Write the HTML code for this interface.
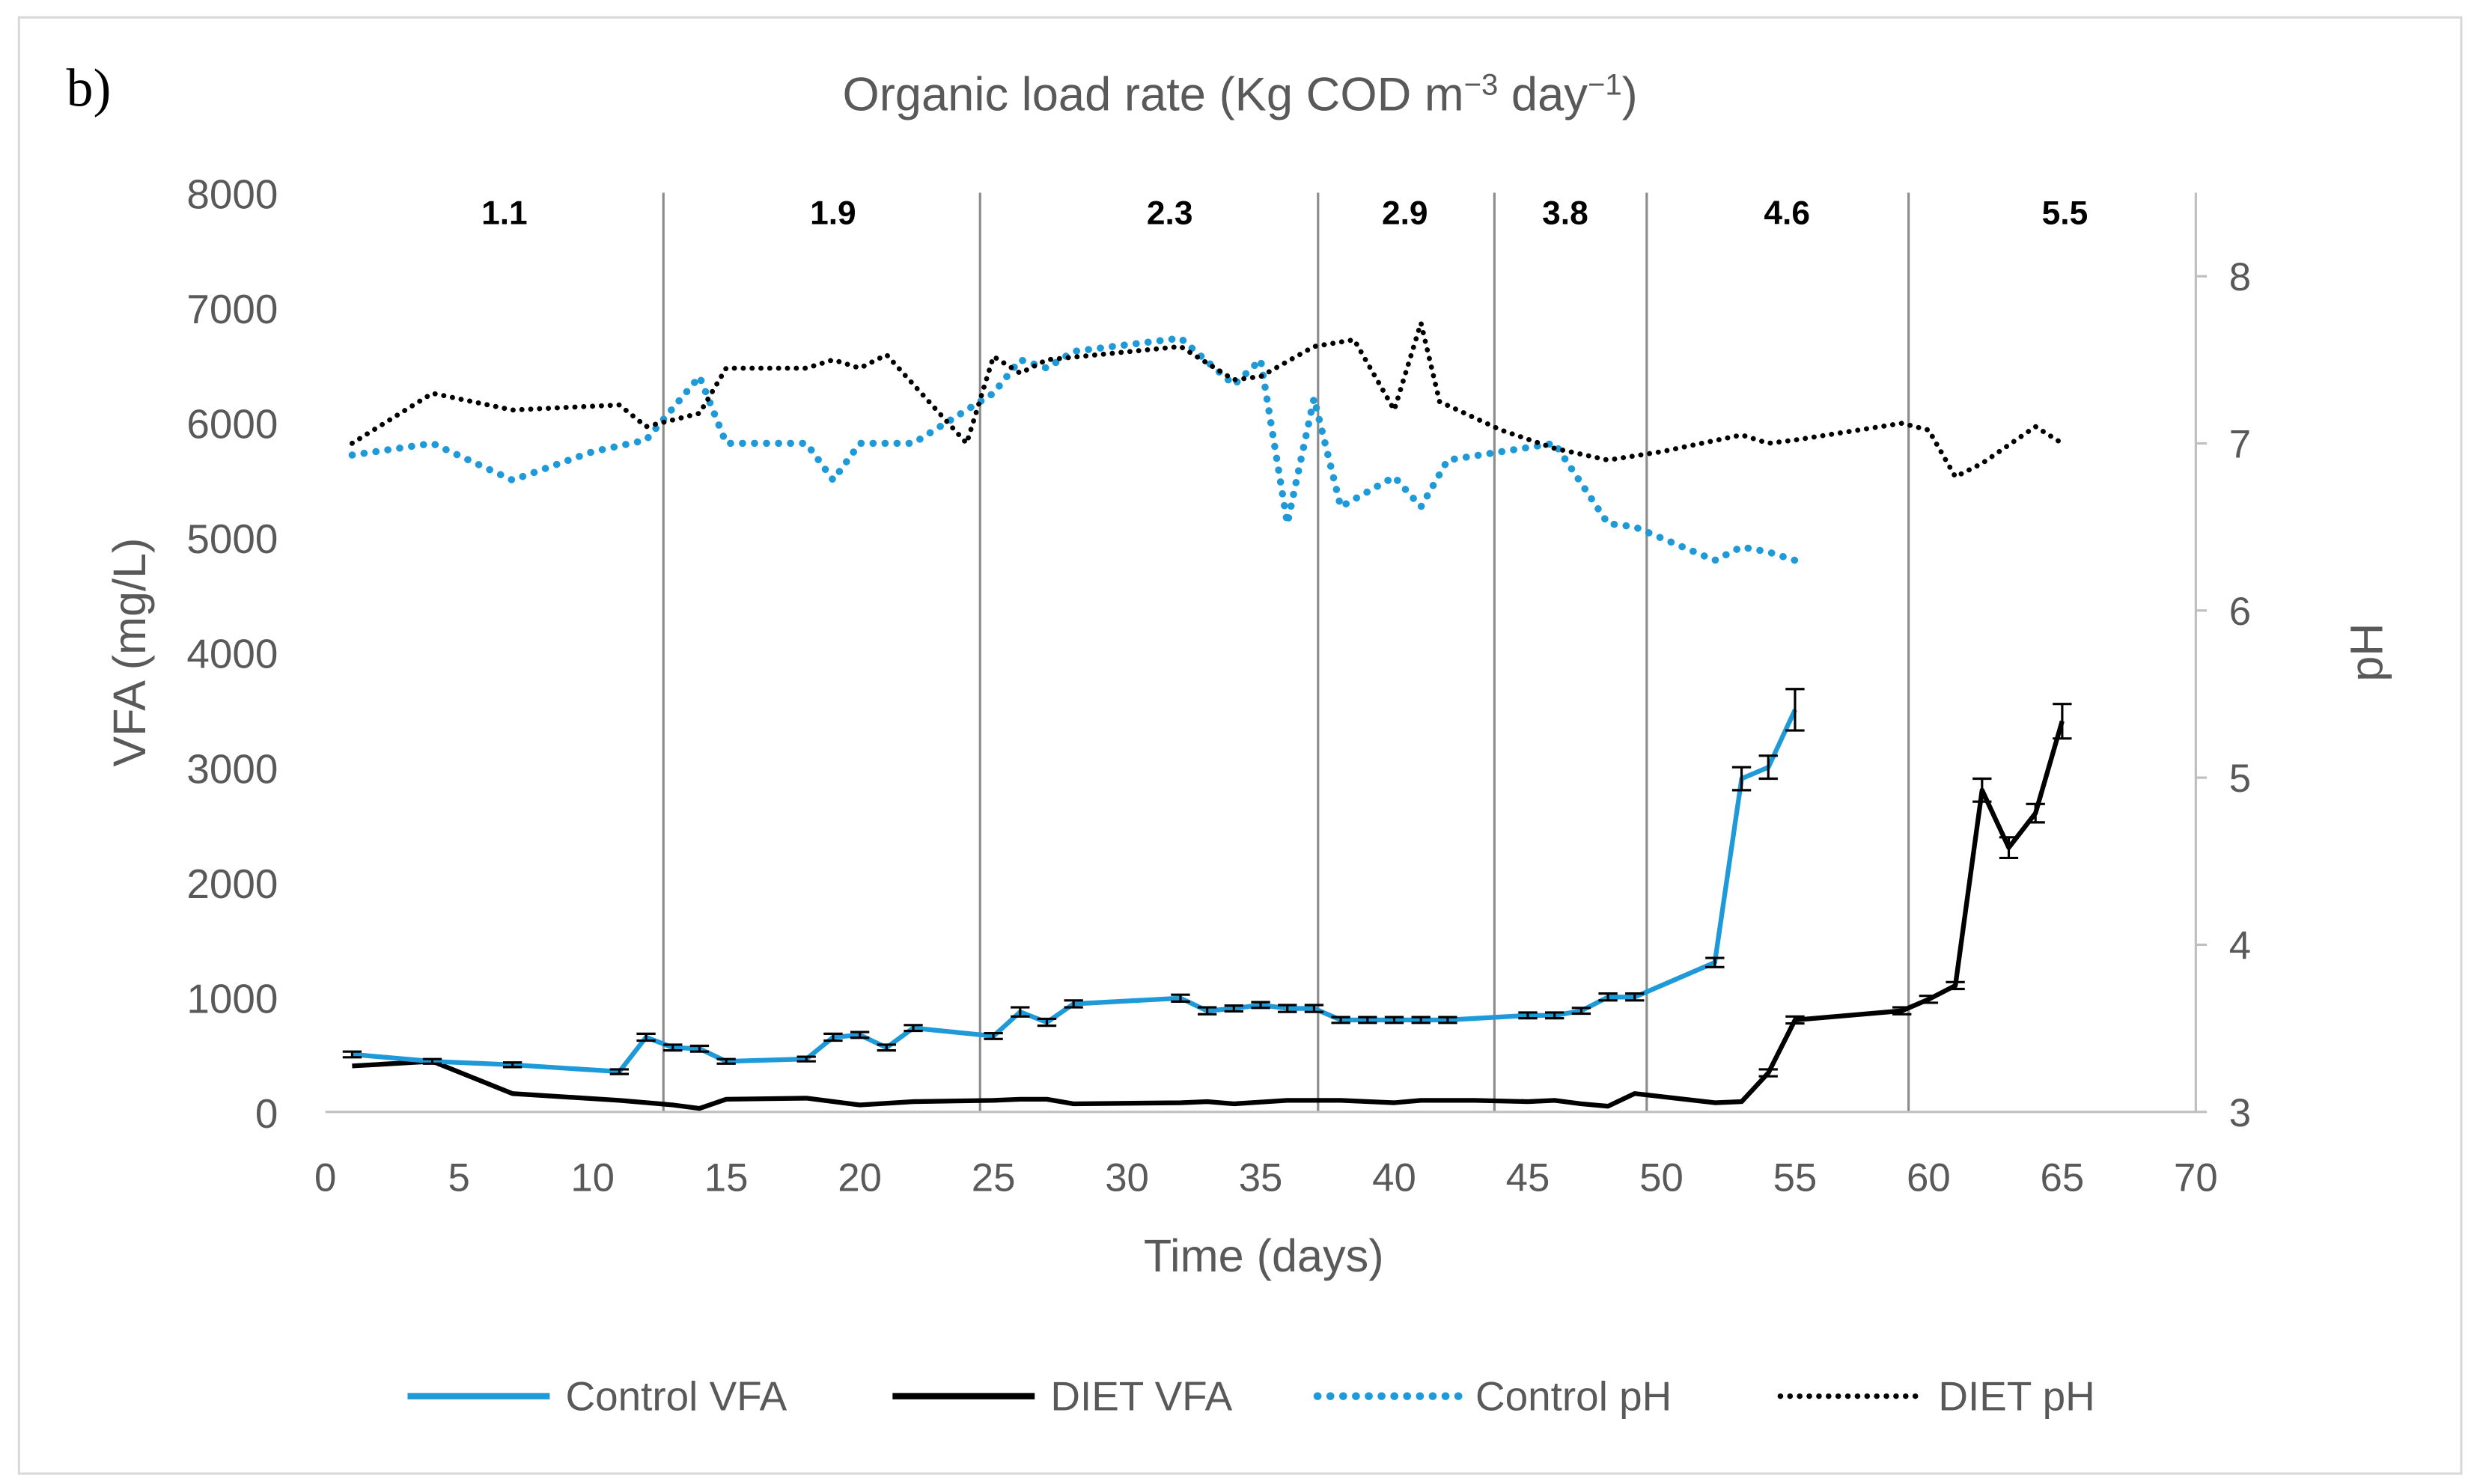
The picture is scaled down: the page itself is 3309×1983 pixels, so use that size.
<!DOCTYPE html>
<html><head><meta charset="utf-8"><style>
html,body{margin:0;padding:0;background:#fff}
svg{display:block}
text{font-family:"Liberation Sans",sans-serif}
</style></head><body>
<svg id="chart" width="3309" height="1983" viewBox="0 0 1568 939.6" preserveAspectRatio="none" xmlns="http://www.w3.org/2000/svg">
<rect x="12" y="11" width="1546" height="922" fill="#fff" stroke="#d9d9d9" stroke-width="1.5"/>
<text x="42" y="67" font-family="Liberation Serif" font-size="34" fill="#000" style="font-family:'Liberation Serif',serif">b)</text>
<text x="785" y="70" font-size="30" fill="#595959" text-anchor="middle">Organic load rate (Kg COD m<tspan dy="-10" font-size="19">−3</tspan><tspan dy="10"> day</tspan><tspan dy="-10" font-size="19">−1</tspan><tspan dy="10">)</tspan></text>
<g id="grid"></g>
<g id="axes"></g>
<g id="series"></g>
<text x="800" y="805" font-size="29" fill="#595959" text-anchor="middle">Time (days)</text>
<text transform="translate(92,413) rotate(-90)" font-size="29" fill="#595959" text-anchor="middle">VFA (mg/L)</text>
<text transform="translate(1508,413) rotate(-90)" font-size="29" fill="#595959" text-anchor="middle">pH</text>
<g>
<g><line x1="258" y1="884" x2="348" y2="884" stroke="#1f9ad9" stroke-width="4"/><text x="358" y="893" font-size="26" fill="#595959">Control VFA</text></g>
<g><line x1="565" y1="884" x2="655" y2="884" stroke="#000" stroke-width="4"/><text x="665" y="893" font-size="26" fill="#595959">DIET VFA</text></g>
<g><line x1="834" y1="884" x2="924" y2="884" stroke="#1f9ad9" stroke-width="5" stroke-dasharray="0.1 8" stroke-linecap="round"/><text x="934" y="893" font-size="26" fill="#595959">Control pH</text></g>
<g><line x1="1127" y1="884" x2="1217" y2="884" stroke="#000" stroke-width="3.5" stroke-dasharray="0.1 6" stroke-linecap="round"/><text x="1227" y="893" font-size="26" fill="#595959">DIET pH</text></g>
</g>
</svg>
<script>
const olrLabels=["1.1","1.9","2.3","2.9","3.8","4.6","5.5"];
const olrDividers=[12.65,24.5,37.15,43.75,49.45,59.25];
const xTicks=[0,5,10,15,20,25,30,35,40,45,50,55,60,65,70];
const yTicks=[0,1000,2000,3000,4000,5000,6000,7000,8000];
const y2Ticks=[3,4,5,6,7,8];
const ctrlVfaDays=[1,4,7,11,12,13,14,15,18,19,20,21,22,25,26,27,28,32,33,34,35,36,37,38,39,40,41,42,45,46,47,48,49,52,53,54,55];
const ctrlVfa=[500,440,410,350,650,560,550,440,460,650,670,560,730,660,870,780,940,990,880,900,930,900,900,800,800,800,800,800,840,840,880,1000,1000,1300,2900,3000,3500];
const ctrlVfaErr=[25,20,20,20,30,25,25,20,20,30,25,25,25,25,40,30,30,30,30,25,25,30,30,25,25,25,25,25,25,25,25,30,30,40,100,100,180];
const dietVfaDays=[1,4,7,11,13,14,15,18,20,22,25,26,27,28,32,33,34,36,38,40,41,43,45,46,47,48,49,52,53,54,55,59,60,61,62,63,64,65];
const dietVfa=[400,440,160,100,60,30,110,120,60,90,100,110,110,70,80,90,70,100,100,80,100,100,90,100,70,50,160,80,90,340,800,880,980,1100,2800,2300,2600,3400];
const dietVfaErr=[0,0,0,0,0,0,0,0,0,0,0,0,0,0,0,0,0,0,0,0,0,0,0,0,0,0,0,0,0,30,30,30,30,30,100,90,80,150];
const ctrlPhDays=[1,4,7,10,12,14,15,18,19,20,22,25,26,27,28,32,34,35,36,37,38,40,41,42,46,48,49,52,53,54,55];
const ctrlPh=[6.93,7.0,6.78,6.95,7.02,7.4,7.0,7.0,6.78,7.0,7.0,7.3,7.5,7.45,7.55,7.63,7.35,7.5,6.52,7.27,6.62,6.8,6.62,6.9,7.0,6.52,6.5,6.3,6.38,6.35,6.3];
const dietPhDays=[1,4,7,11,12,14,15,18,19,20,21,24,25,26,27,32,34,35,37,38.5,40,41,41.7,44,46,48,50,53,54,55,59,60,61,62,64,65];
const dietPh=[7.0,7.3,7.2,7.23,7.1,7.18,7.45,7.45,7.5,7.45,7.53,7.0,7.52,7.42,7.5,7.58,7.38,7.4,7.58,7.62,7.2,7.72,7.25,7.08,6.97,6.9,6.95,7.05,7.0,7.02,7.12,7.08,6.8,6.88,7.1,7.0];

const NS="http://www.w3.org/2000/svg";
const X=d=>206+d*(1390-206)/70;
const Y=v=>704-v*(704-122)/8000;
const Y2=p=>704-(p-3)*(704-122)/5.5;
function mk(tag,attrs,parent){const e=document.createElementNS(NS,tag);for(const k in attrs)e.setAttribute(k,attrs[k]);parent.appendChild(e);return e;}
const grid=document.getElementById('grid'),axes=document.getElementById('axes'),ser=document.getElementById('series');

olrDividers.forEach(d=>{const l=mk('line',{x1:X(d),x2:X(d),y1:122,y2:704,stroke:'#8c8c8c','stroke-width':1.5},grid);

});
const labelDays=[6.7,19,31.6,40.4,46.4,54.7,65.1];
olrLabels.forEach((s,i)=>{const t=mk('text',{x:X(labelDays[i]),y:142,'font-size':21,'font-weight':'bold','text-anchor':'middle',fill:'#000'},grid);t.textContent=s;

});

const xa=mk('line',{x1:206,x2:1390,y1:704,y2:704,stroke:'#bfbfbf','stroke-width':1.5},axes);


const y2a=mk('line',{x1:1390,x2:1390,y1:122,y2:704,stroke:'#bfbfbf','stroke-width':1.5},axes);


xTicks.forEach(v=>{const t=mk('text',{x:X(v),y:754,'font-size':25,'text-anchor':'middle',fill:'#595959'},axes);t.textContent=v;

});
yTicks.forEach(v=>{const t=mk('text',{x:176,y:Y(v)+10,'font-size':26,'text-anchor':'end',fill:'#595959'},axes);t.textContent=v;

});
y2Ticks.forEach(v=>{mk('line',{x1:1390,x2:1397,y1:Y2(v),y2:Y2(v),stroke:'#bfbfbf','stroke-width':1.5},axes);
const t=mk('text',{x:1418,y:Y2(v)+9,'font-size':25,'text-anchor':'middle',fill:'#595959'},axes);t.textContent=v;

});

function line(days,vals,fy,color,w,dash,name){
  const pts=days.map((d,i)=>X(d).toFixed(1)+','+fy(vals[i]).toFixed(1)).join(' ');
  const a={points:pts,fill:'none',stroke:color,'stroke-width':w,'stroke-linejoin':'round'};
  if(dash){a['stroke-dasharray']=dash;a['stroke-linecap']='round';}
  const p=mk('polyline',a,ser);
  
  
}
function errs(days,vals,err,name){
  days.forEach((d,i)=>{if(!err[i])return;const x=X(d),y1=Y(vals[i]-err[i]),y2=Y(vals[i]+err[i]);
    const g=mk('g',{stroke:'#000','stroke-width':1.5},ser);
    
    
    mk('line',{x1:x,x2:x,y1:y1,y2:y2},g);
    mk('line',{x1:x-6,x2:x+6,y1:y1,y2:y1},g);
    mk('line',{x1:x-6,x2:x+6,y1:y2,y2:y2},g);});
}
line(ctrlPhDays,ctrlPh,Y2,'#1f9ad9',4.5,'0.1 7.5','control-ph-line');
line(dietPhDays,dietPh,Y2,'#000',3.2,'0.1 5.5','diet-ph-line');
line(dietVfaDays,dietVfa,Y,'#000',3,null,'diet-vfa-line');
line(ctrlVfaDays,ctrlVfa,Y,'#1f9ad9',3,null,'control-vfa-line');
errs(ctrlVfaDays,ctrlVfa,ctrlVfaErr,'control-vfa-error-bar');
errs(dietVfaDays,dietVfa,dietVfaErr,'diet-vfa-error-bar');
</script>
</body></html>
